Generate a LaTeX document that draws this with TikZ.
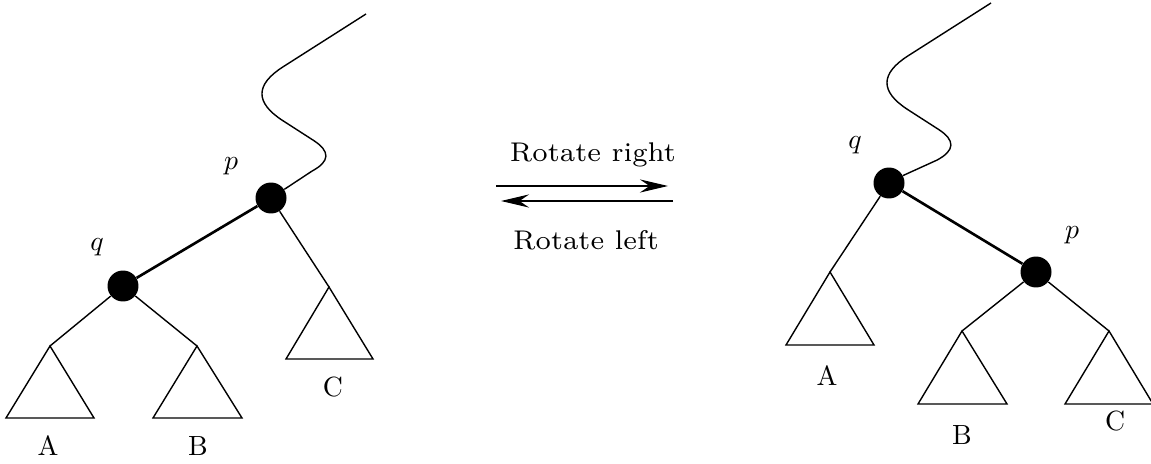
\documentclass[tikz,border=0pt]{standalone}
\usetikzlibrary{arrows.meta,calc}
\newcommand\mylab[1]{\scalebox{1.58}{\fontsize{10}{12}\selectfont #1}}
\newcommand\myrot[1]{\scalebox{2.2}{\fontsize{7}{8}\selectfont #1}}
\tikzset{
  dot/.style={circle,fill=black,inner sep=0pt,minimum size=0.62cm},
  thinline/.style={line width=0.8pt},
  thickline/.style={line width=1.5pt},
  tri/.style={line width=0.8pt,line join=miter},
  lbl/.style={inner sep=0pt},
  arr/.style={line width=0.8pt,-{Stealth[length=16pt,width=7.5pt,inset=5.5pt]}},
}
\begin{document}
\begin{tikzpicture}[x=0.02cm,y=0.02cm]
\useasboundingbox (0,0) rectangle (1151,463);
% ---------- left tree ----------
\node[dot] (p1) at (271,265) {};
\node[dot] (q1) at (123,177) {};
\node[lbl] (pl1) at (231,297) {\mylab{$p$}};
\node[lbl] (ql1) at (97,216) {\mylab{$q$}};
\coordinate (a1) at (50,117);
\coordinate (b1) at (197,117);
\coordinate (c1) at (329,176);
\draw[tri] (a1) -- (6,45) -- (94,45) -- cycle;
\draw[tri] (b1) -- (153,45) -- (242,45) -- cycle;
\draw[tri] (c1) -- (286,104) -- (373,104) -- cycle;
\node[lbl] (al1) at (48,17) {\mylab{A}};
\node[lbl] (bl1) at (198,17) {\mylab{B}};
\node[lbl] (cl1) at (333,76) {\mylab{C}};
\draw[thickline] (q1) -- (p1);
\draw[thinline] (q1) -- (a1);
\draw[thinline] (q1) -- (b1);
\draw[thinline] (p1) -- (c1);
\coordinate (wa1) at (312.0,291.9);
\coordinate (wb1) at (313.5,322.6);
\coordinate (wc1) at (282.9,342.3);
\coordinate (wd1) at (283.1,396.2);
\coordinate (we1) at (366,449);
\draw[thinline] (p1.33) -- (wa1) .. controls (330.0,301.6) and (330.5,311.6) .. (wb1)
  -- (wc1) .. controls (254.9,360.3) and (255,378.3) .. (wd1) -- (we1);
% ---------- arrows ----------
\coordinate (t1) at (496,277);
\coordinate (t2) at (668,277);
\coordinate (u1) at (673,262);
\coordinate (u2) at (501,262);
\draw[arr] (t1) -- (t2);
\draw[arr] (u1) -- (u2);
\node[lbl] (rr) at (593,308) {\myrot{Rotate right}};
\node[lbl] (rl) at (586,223) {\myrot{Rotate left}};
% ---------- right tree ----------
\node[dot] (q2) at (889,280) {};
\node[dot] (p2) at (1036,191) {};
\node[lbl] (ql2) at (855,318) {\mylab{$q$}};
\node[lbl] (pl2) at (1072,228) {\mylab{$p$}};
\coordinate (a2) at (830,191);
\coordinate (b2) at (962,132);
\coordinate (c2) at (1109,132);
\draw[tri] (a2) -- (786,118) -- (874,118) -- cycle;
\draw[tri] (b2) -- (918,59) -- (1007,59) -- cycle;
\draw[tri] (c2) -- (1065,59) -- (1153,59) -- cycle;
\node[lbl] (al2) at (827,87) {\mylab{A}};
\node[lbl] (bl2) at (962,28) {\mylab{B}};
\node[lbl] (cl2) at (1115,42) {\mylab{C}};
\draw[thickline] (q2) -- (p2);
\draw[thinline] (q2) -- (a2);
\draw[thinline] (p2) -- (b2);
\draw[thinline] (p2) -- (c2);
\coordinate (wa2) at (937.0,302.9);
\coordinate (wb2) at (938.5,333.6);
\coordinate (wc2) at (907.9,353.3);
\coordinate (wd2) at (908.1,407.2);
\coordinate (we2) at (991,460);
\draw[thinline] (q2.28) -- (wa2) .. controls (955.0,312.6) and (955.5,322.6) .. (wb2)
  -- (wc2) .. controls (879.9,371.3) and (880,389.3) .. (wd2) -- (we2);
\end{tikzpicture}
\end{document}
